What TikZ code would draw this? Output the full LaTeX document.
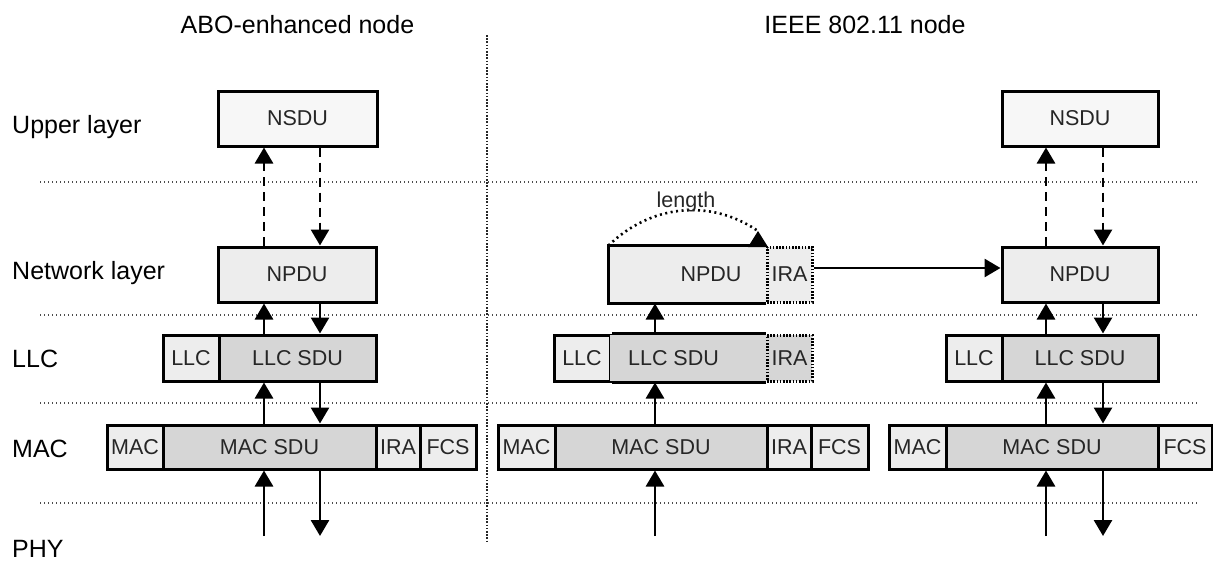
\documentclass[tikz,border=0pt]{standalone}
\usepackage{fontspec}
\setmainfont{Liberation Sans}
\usetikzlibrary{arrows.meta}
\definecolor{boxlight}{gray}{0.97}
\definecolor{boxmid}{gray}{0.93}
\definecolor{boxdark}{gray}{0.84}
\tikzset{
  pdubox/.style={draw=black, line width=3pt, inner sep=0pt, text=black!85,
    font=\fontsize{21.5}{24}\selectfont},
  upperrow/.style={minimum height=55pt},
  llcrow/.style={minimum height=46pt},
  macrow/.style={minimum height=44pt},
  dotbox/.style={pdubox, dash pattern=on 1.6pt off 1.6pt},
  layerlbl/.style={anchor=base west, inner sep=0pt, font=\fontsize{25}{28}\selectfont},
  sepline/.style={line width=1.2pt, black!70, dash pattern=on 1.2pt off 2.8pt},
  flowarrow/.style={line width=2.8pt, -{Triangle[width=18pt,length=16pt]}},
  upperarrow/.style={flowarrow, dash pattern=on 9pt off 6pt},
}
\begin{document}
\begin{tikzpicture}[x=1pt, y=-1pt]
    \useasboundingbox (0,0) rectangle (1213,562);
    \node[layerlbl, anchor=base] (titleA) at (297.5,33) {ABO-enhanced node};
    \node[layerlbl, anchor=base] (titleB) at (865,33) {IEEE 802.11 node};
    \node[layerlbl] (upperlbl) at (12,133) {Upper layer};
    \node[layerlbl] (netlbl) at (12,279) {Network layer};
    \node[layerlbl] (llclbl) at (12,367) {LLC};
    \node[layerlbl] (maclbl) at (12,457) {MAC};
    \node[layerlbl] (phylbl) at (12,557) {PHY};
    \draw[sepline] (40,182) -- (1199,182);
    \draw[sepline] (40,315) -- (1199,315);
    \draw[sepline] (40,403) -- (1199,403);
    \draw[sepline] (40,503) -- (1199,503);
    \draw[line width=2.6pt, black!85, dash pattern=on 1.6pt off 1.6pt] (487,35) -- (487,543);
    \coordinate (upA) at (264,0);
    \coordinate (dnA) at (320,0);
    \coordinate (upB) at (655,0);
    \coordinate (upC) at (1046,0);
    \coordinate (dnC) at (1103,0);
    \coordinate (phy) at (0,536);
    % ABO-enhanced node
    \node[pdubox, upperrow, fill=boxlight, minimum width=159pt] (nsduA) at (297.5,118.5) {NSDU};
    \node[pdubox, upperrow, fill=boxmid, minimum width=158pt] (npduA) at (297,274.5) {NPDU};
    \node[pdubox, llcrow, fill=boxmid, minimum width=56pt] (llchA) at (191,358) {LLC};
    \node[pdubox, llcrow, fill=boxdark, minimum width=157pt] (llcsduA) at (297.5,358) {LLC SDU};
    \node[pdubox, macrow, fill=boxmid, minimum width=56pt] (machA) at (135,447) {MAC};
    \node[pdubox, macrow, fill=boxdark, minimum width=213pt] (macsduA) at (269.5,447) {MAC SDU};
    \node[pdubox, macrow, fill=boxmid, minimum width=44pt] (iraA) at (398,447) {IRA};
    \node[pdubox, macrow, fill=boxmid, minimum width=56pt] (fcsA) at (448,447) {FCS};
    \draw[upperarrow] (npduA.north -| upA) -- (nsduA.south -| upA);
    \draw[upperarrow] (nsduA.south -| dnA) -- (npduA.north -| dnA);
    \draw[flowarrow] (llcsduA.north -| upA) -- (npduA.south -| upA);
    \draw[flowarrow] (npduA.south -| dnA) -- (llcsduA.north -| dnA);
    \draw[flowarrow] (macsduA.north -| upA) -- (llcsduA.south -| upA);
    \draw[flowarrow] (llcsduA.south -| dnA) -- (macsduA.north -| dnA);
    \draw[flowarrow] (phy -| upA) -- (macsduA.south -| upA);
    \draw[flowarrow] (macsduA.south -| dnA) -- (phy -| dnA);
    % IEEE 802.11 node, sender
    \node[pdubox, upperrow, draw=none, fill=boxmid, minimum width=202pt] (npduB) at (711,274.5) {NPDU};
    \node[dotbox, upperrow, fill=boxmid, minimum width=45pt] (iraB) at (789.5,274.5) {IRA};
    \draw[line width=3pt] (iraB.north west) -| (npduB.south west) -- (iraB.south west);
    \node[pdubox, llcrow, fill=boxmid, minimum width=56pt] (llchB) at (582,358) {LLC};
    \node[pdubox, llcrow, draw=none, fill=boxdark, minimum width=157pt] (llcsduB) at (688.5,358) {LLC SDU\hspace*{30pt}};
    \node[dotbox, llcrow, fill=boxdark, minimum width=45pt] (llciraB) at (789.5,358) {IRA};
    \draw[line width=3pt] (llciraB.north west) -- (llchB.north east) (llchB.south east) -- (llciraB.south west);
    \node[pdubox, macrow, fill=boxmid, minimum width=57pt] (machB) at (526.5,447) {MAC};
    \node[pdubox, macrow, fill=boxdark, minimum width=212pt] (macsduB) at (661,447) {MAC SDU};
    \node[pdubox, macrow, fill=boxmid, minimum width=44pt] (macraB) at (789,447) {IRA};
    \node[pdubox, macrow, fill=boxmid, minimum width=57pt] (fcsB) at (839.5,447) {FCS};
    \draw[flowarrow] (llcsduB.north -| upB) -- (npduB.south -| upB);
    \draw[flowarrow] (macsduB.north -| upB) -- (llcsduB.south -| upB);
    \draw[flowarrow] (phy -| upB) -- (macsduB.south -| upB);
    \coordinate (lentip) at (758,231);
    \draw[line width=2.6pt, dash pattern=on 2pt off 3.5pt] (npduB.north west) .. controls (650,205) and (710,198) .. (lentip);
    \fill (lentip) -- ++(-10,16) -- ++(20,0) -- cycle;
    \node[anchor=base, inner sep=0pt, text=black!85, font=\fontsize{21.5}{24}\selectfont] (lenlbl) at (686,207) {length};
    % IEEE 802.11 node, receiver
    \node[pdubox, upperrow, fill=boxlight, minimum width=156pt] (nsduC) at (1080,118.5) {NSDU};
    \node[pdubox, upperrow, fill=boxmid, minimum width=156pt] (npduC) at (1080,274.5) {NPDU};
    \node[pdubox, llcrow, fill=boxmid, minimum width=56pt] (llchC) at (974,358) {LLC};
    \node[pdubox, llcrow, fill=boxdark, minimum width=156pt] (llcsduC) at (1080,358) {LLC SDU};
    \node[pdubox, macrow, fill=boxmid, minimum width=57pt] (machC) at (917.5,447) {MAC};
    \node[pdubox, macrow, fill=boxdark, minimum width=212pt] (macsduC) at (1052,447) {MAC SDU};
    \node[pdubox, macrow, fill=boxmid, minimum width=54pt] (fcsC) at (1185,447) {FCS};
    \draw[upperarrow] (npduC.north -| upC) -- (nsduC.south -| upC);
    \draw[upperarrow] (nsduC.south -| dnC) -- (npduC.north -| dnC);
    \draw[flowarrow] (llcsduC.north -| upC) -- (npduC.south -| upC);
    \draw[flowarrow] (npduC.south -| dnC) -- (llcsduC.north -| dnC);
    \draw[flowarrow] (macsduC.north -| upC) -- (llcsduC.south -| upC);
    \draw[flowarrow] (llcsduC.south -| dnC) -- (macsduC.north -| dnC);
    \draw[flowarrow] (phy -| upC) -- (macsduC.south -| upC);
    \draw[flowarrow] (macsduC.south -| dnC) -- (phy -| dnC);
    \draw[flowarrow] ([yshift=6.5pt]iraB.east) -- ([yshift=6.5pt]npduC.west);
\end{tikzpicture}
\end{document}
